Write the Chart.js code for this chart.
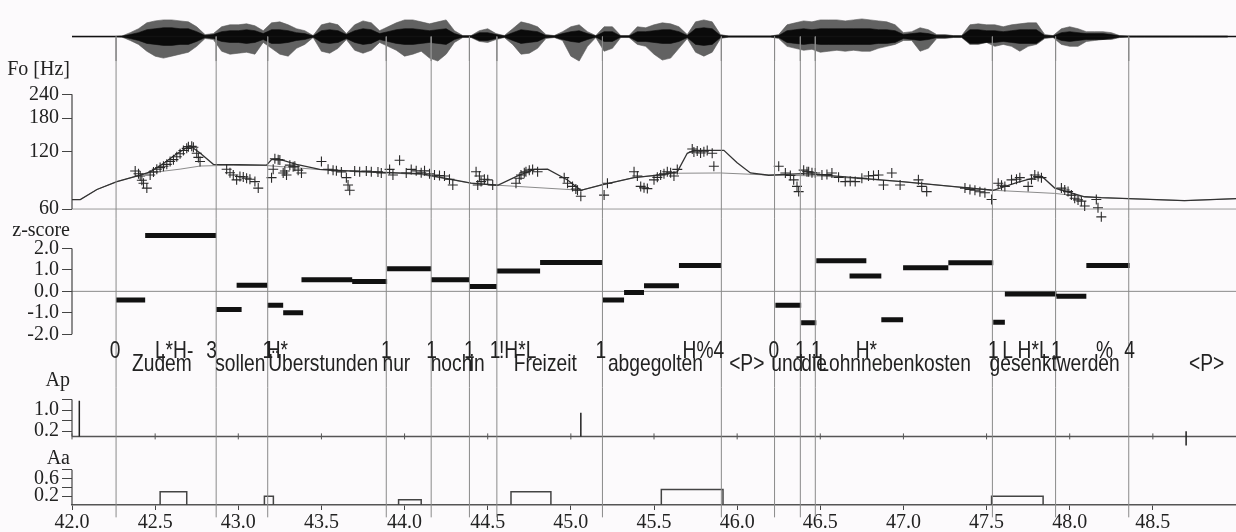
<!DOCTYPE html>
<html><head><meta charset="utf-8">
<script src="https://cdn.jsdelivr.net/npm/chart.js@4.4.1/dist/chart.umd.min.js"></script>
<style>html,body{margin:0;padding:0;background:#fcfafc;}#wrap{width:1236px;height:532px;position:relative;}</style>
</head><body><div id="wrap"><canvas id="c"></canvas></div>
<script>
// ---------------- data ----------------
const xTicks = [42.0,42.5,43.0,43.5,44.0,44.5,45.0,45.5,46.0,46.5,47.0,47.5,48.0,48.5];
const boundaries = [42.265,42.867,43.177,43.89,44.16,44.39,44.555,45.19,45.905,46.225,46.38,46.47,47.535,47.915,48.355];

const waveStart = 42.0, waveStep = 0.05;
const waveUp = [0,0,0,0,0,0,0.5,4,8,14,16,17,17,16,15,10,2,3,10,12,12,13,11,6,14,15,12,8,6,1,
  12,14,12,3,12,16,14,6,10,14,17,17,15,13,15,17,6,1,1,6,8,3,1,8,15,13,10,2,1,5,
  10,12,5,1,10,10,1,1,10,9,12,14,13,10,2,15,17,15,2,0.5,0.5,0.5,0.5,0.5,0.5,2,12,14,16,15,
  17,17,17,16,17,18,17,16,15,12,4,5,9,7,2,2,1,1,12,13,12,12,10,12,13,14,14,2,1,8,
  10,8,5,5,5,4,1,0.5,0.5,0.5,0.5,0.5,0.5,0.5,0.5,0.5,0.5,0.5,0.5,0.5];
const waveDown = [0,0,0,0,0,0,0.5,4,8,15,20,22,20,18,16,10,2,3,15,18,17,16,18,6,12,18,20,12,8,1,
  15,17,12,3,14,17,14,6,10,14,20,18,15,22,25,18,6,1,1,5,6,3,1,8,18,17,12,2,1,4,
  20,25,10,1,15,12,1,1,8,10,18,24,22,12,2,16,20,16,2,0.5,0.5,0.5,0.5,0.5,0.5,2,10,12,14,13,
  16,15,14,15,14,15,15,12,10,8,4,4,15,12,2,2,1,1,8,8,6,10,8,10,15,10,8,2,1,8,
  10,10,5,4,3,3,1,0.5,0.5,0.5,0.5,0.5,0.5,0.5,0.5,0.5,0.5,0.5,0.5,0.5];
const waveCore = [0,0,0,0,0,0,0.3,2,4,7,8,9,9,8,8,5,1,2,5,6,6,7,6,3,7,7,6,4,3,0.5,
  6,7,6,2,6,8,7,3,5,7,8,8,7,6,7,8,3,0.5,0.5,4,4,2,0.5,4,7,6,5,1,0.5,3,
  5,6,3,0.5,5,5,0.5,0.5,5,5,6,7,7,5,1,8,9,8,1,0.3,0.3,0.3,0.3,0.3,0.3,1,6,7,8,7,
  8,8,8,8,8,8,8,7,7,6,2,3,4,3,1,1,0.5,0.5,7,7,6,6,5,6,7,7,7,1,0.5,4,
  5,4,3,3,3,2,0.5,0.3,0.3,0.3,0.3,0.3,0.3,0.3,0.3,0.3,0.3,0.3,0.3,0.3];

const modelT  = [42.00,42.05,42.15,42.27,42.41,42.47,42.55,42.63,42.71,42.77,42.85,43.00,43.17,43.20,43.24,43.35,43.49,43.78,44.10,44.17,44.40,44.56,44.68,44.78,44.86,44.98,45.06,45.18,45.38,45.55,45.64,45.70,45.74,45.92,46.00,46.08,46.19,46.39,46.50,46.58,46.99,47.29,47.54,47.69,47.83,47.91,48.09,48.19,48.69,49.00];
const modelHz = [67.3,67.3,76,83.6,90.5,94,104,117,129,118,103,102.5,102,109,110,103,97,94,92,89.5,82,80,89.5,96.9,97.2,85.3,75.3,80.2,87.8,91,94,117.7,122,122,105,92.8,90.3,92,91,89.5,83.6,78.9,75.3,83,89.5,77.3,69.6,68.8,66.4,68];

const phraseT  = [42.00,42.05,42.15,42.27,42.41,42.47,42.65,42.77,42.97,43.17,43.50,43.78,44.10,44.40,44.56,45.06,45.18,45.38,45.64,45.90,46.19,46.50,46.99,47.29,47.54,47.91,48.09,48.19,48.69,49.00];
const phraseHz = [67.3,67.3,76,83.6,90.5,93,97.2,100.9,102,101.5,96.5,94,91,82,80,75.3,80.2,87.8,92.5,92.8,90.5,89.5,83.6,78.9,75.3,72.5,69.6,68.8,66.4,68];

const f0T = [42.38,42.40,42.41,42.42,42.43,42.45,42.47,42.49,42.51,42.53,42.55,42.57,42.59,42.61,42.63,42.65,42.67,42.69,42.70,42.72,42.73,42.75,42.76,42.77,
  42.93,42.95,42.97,42.99,43.01,43.03,43.05,43.07,43.10,43.12,
  43.20,43.21,43.22,43.24,43.25,43.27,43.28,43.29,43.31,43.33,43.34,43.36,43.38,
  43.50,43.54,43.57,43.59,43.62,43.65,43.66,43.67,43.70,43.73,43.77,43.80,43.84,43.86,43.91,43.93,43.97,
  44.01,44.04,44.07,44.10,44.12,44.15,44.18,44.21,44.24,44.27,44.29,
  44.43,44.44,44.45,44.46,44.48,44.50,44.53,
  44.67,44.69,44.70,44.72,44.73,44.75,44.77,44.80,
  44.96,44.98,45.01,45.03,45.04,45.06,45.20,45.22,
  45.38,45.40,45.42,45.44,45.46,45.50,45.52,45.54,45.56,45.58,45.60,45.62,45.64,
  45.73,45.74,45.76,45.78,45.80,45.82,45.85,45.86,
  46.25,46.29,46.32,46.34,46.36,46.37,46.40,46.42,46.43,46.45,46.47,46.51,46.54,46.57,46.61,46.65,46.68,46.71,46.75,46.79,46.82,46.85,46.88,46.93,46.98,
  47.09,47.11,47.14,47.37,47.40,47.43,47.46,47.49,47.53,47.57,47.59,47.61,47.65,47.68,47.70,47.75,47.77,47.79,47.81,47.83,
  47.95,47.97,47.99,48.01,48.03,48.05,48.07,48.09,48.16,48.17,48.19];
const f0Hz = [95,92,89.5,85,82,77.3,90.5,94,97,99,100.6,103,106.6,109,113,117,121.8,125,127.6,128,126.6,117.8,112,106.6,
  97,93,90.5,85.4,89,88.5,87,86,83.6,77.3,
  87.7,97,110.3,109,108.6,92.8,95,90.5,102,100,100.6,96,92.8,
  106.6,97,96,95.2,94,87.7,80.2,75.3,95,94.1,95,94.1,94,92.8,96.9,90.5,108.3,
  92.8,96.9,95.2,93,95.2,92,90.5,90,89.5,86,80.2,
  94.1,80.2,89.5,83.6,86,85.4,80.2,
  81.9,87,90.5,93,94.1,96,96.9,94.1,
  87.7,81.9,78.9,76.5,75.3,70,71,81.9,
  94.1,89.5,78.9,77.5,76.8,85.4,88,90.5,92,94.1,93,89.5,96.9,
  124.1,119.6,121,118.1,120,121.8,117.8,100.6,
  100.6,92.8,90,85.4,78.9,74.1,96,94.1,94.1,93,92.8,90.5,91,92.8,88,83.6,84,83.6,87,89.5,90,90.5,80.2,92.8,80.2,
  85.4,78.9,74.1,77.3,76,75.3,74,73,67.3,81.9,80,78.9,85.4,86,87.7,78.9,86,90.5,89,87.7,
  77.3,75.5,74.1,71,68.4,67,66,62.2,67.3,61,54.6];
const f0Ticks = [60,120,180,240];

const zStart = [42.265,42.44,42.867,42.99,43.175,43.27,43.38,43.685,43.895,44.16,44.39,44.555,44.815,45.19,45.32,45.44,45.65,46.23,46.385,46.476,46.676,46.867,46.998,47.27,47.54,47.61,47.92,48.10];
const zEnd   = [42.44,42.867,43.02,43.175,43.27,43.39,43.685,43.895,44.16,44.39,44.555,44.815,45.19,45.32,45.44,45.65,45.905,46.385,46.476,46.777,46.867,46.998,47.27,47.54,47.61,47.92,48.10,48.36];
const zVal   = [-0.4,2.6,-0.85,0.28,-0.65,-1.0,0.54,0.46,1.05,0.54,0.23,0.95,1.34,-0.4,-0.05,0.26,1.2,-0.65,-1.46,1.43,0.72,-1.32,1.1,1.33,-1.44,-0.12,-0.23,1.2];
const zTicks = [-2,-1,0,1,2];

const apT = [42.044,45.06,48.70];
const apLow = [0,0,-0.35];
const apHigh = [1.35,0.9,0.2];
const apTicks = [0.2,0.6,1.0,1.4];
const apLabeled = [0.2,1.0];

const aaStart = [42.53,43.157,43.964,44.64,45.544,47.53];
const aaEnd   = [42.69,43.211,44.10,44.88,45.915,47.84];
const aaAmp   = [0.3,0.2,0.12,0.3,0.35,0.2];
const aaTicks = [0.2,0.4,0.6,0.8];
const aaLabeled = [0.2,0.6];

const toneT = [42.259,42.84,42.614,43.177,43.235,43.89,44.163,44.39,44.545,44.68,45.18,45.765,45.89,46.22,46.38,46.476,46.777,47.54,47.627,47.783,47.92,48.21,48.36];
const toneText = ['0','3','L*H-','1','H*','1','1','1','1','!H*L','1','H%','4','0','1','1','H*','1','L','H*L','1','%','4'];
const wordT = [42.361,42.861,43.18,43.867,44.157,44.392,44.657,45.223,45.952,46.205,46.386,46.488,47.518,47.922,48.717];
const wordText = ['Zudem','sollen','Überstunden','nur','noch','in','Freizeit','abgegolten','<P>','und','die','Lohnnebenkosten','gesenkt','werden','<P>'];

// ---------------- layout / styles ----------------
const band = {
  yWave: {min:-25, max:22, h:47, w:6},
  yF0:   {min:53.3, max:359, h:161, w:5},
  yZ:    {min:-2.33, max:3.38, h:125, w:4},
  yLab:  {min:0, max:1, h:47, w:3},
  yAp:   {min:0, max:1.86, h:50, w:2},
  yAa:   {min:0, max:1.556, h:70, w:1}
};
const serif = '"Liberation Serif", "Times New Roman", serif';
const sans = '"Liberation Sans", Arial, sans-serif';

const waveX = i => waveStart + i*waveStep;

function segs(list){ const out=[]; list.forEach(s=>{ out.push(...s, {x:s[s.length-1].x, y:null}); }); return out; }
function lineDs(yAxisID, data, color, width, extra){
  return Object.assign({type:'line', yAxisID, data, borderColor:color, borderWidth:width, pointRadius:0,
    fill:false, tension:0, spanGaps:false, clip:false, showLine:true}, extra||{});
}
const bLo = {yWave:0, yF0:band.yF0.min, yZ:band.yZ.min, yLab:0, yAp:0, yAa:-0.28};
const bHi = {yWave:band.yWave.min, yF0:band.yF0.max, yZ:band.yZ.max, yLab:1, yAp:band.yAp.max, yAa:band.yAa.max};

// note: Chart.js paints earlier datasets on top of later ones
const datasets = [];
// boundary lines, one piece per panel
Object.keys(band).forEach(id=>{
  datasets.push(lineDs(id, segs(boundaries.map(t=>[{x:t,y:bLo[id]},{x:t,y:bHi[id]}])), '#8a8a8a', 1));
});
// waveform: dense core (black) on top of the outer envelope (grey spikes)
datasets.push(lineDs('yWave', [{x:42,y:0},{x:49,y:0}], '#111', 1.5));
datasets.push(lineDs('yWave', waveCore.map((v,i)=>({x:waveX(i), y:v})), '#0a0a0a', 0.6));
datasets.push(lineDs('yWave', waveCore.map((v,i)=>({x:waveX(i), y:-v})), '#0a0a0a', 0.6, {fill:'-1', backgroundColor:'#0a0a0a'}));
datasets.push(lineDs('yWave', waveUp.map((v,i)=>({x:waveX(i), y:v})), '#5a5a5a', 0.6));
datasets.push(lineDs('yWave', waveDown.map((v,i)=>({x:waveX(i), y:-v})), '#5a5a5a', 0.6, {fill:'-1', backgroundColor:'#626262'}));
// F0 panel
datasets.push({type:'scatter', yAxisID:'yF0', data:f0T.map((t,i)=>({x:t,y:f0Hz[i]})), showLine:false,
  pointStyle:'cross', pointRadius:5, borderColor:'#2a2a2a', borderWidth:1.1, backgroundColor:'#2a2a2a', clip:false});
datasets.push(lineDs('yF0', modelT.map((t,i)=>({x:t,y:modelHz[i]})), '#333', 1.3));
datasets.push(lineDs('yF0', phraseT.map((t,i)=>({x:t,y:phraseHz[i]})), '#8c8c8c', 1));
datasets.push(lineDs('yF0', [{x:42,y:f0Ticks[0]},{x:42,y:f0Ticks[f0Ticks.length-1]}], '#444', 1.2));
datasets.push(lineDs('yF0', [{x:42,y:60},{x:49,y:60}], '#9a9a9a', 1));
// z-score
datasets.push(lineDs('yZ', segs(zStart.map((s,i)=>[{x:s,y:zVal[i]},{x:zEnd[i],y:zVal[i]}])), '#111', 5, {borderCapStyle:'butt'}));
datasets.push(lineDs('yZ', [{x:42,y:zTicks[0]},{x:42,y:zTicks[zTicks.length-1]}], '#444', 1.2));
datasets.push(lineDs('yZ', [{x:42,y:0},{x:49,y:0}], '#8a8a8a', 1));
// Ap
datasets.push(lineDs('yAp', segs(apT.map((t,i)=>[{x:t,y:apLow[i]},{x:t,y:apHigh[i]}])), '#222', 1.5));
datasets.push({type:'scatter', yAxisID:'yAp', data:xTicks.map(t=>({x:t,y:0})), pointStyle:'line', rotation:90,
  pointRadius:3, borderColor:'#555', borderWidth:1, clip:false});
datasets.push(lineDs('yAp', [{x:42,y:0},{x:42,y:apTicks[apTicks.length-1]}], '#444', 1.2));
datasets.push(lineDs('yAp', [{x:42,y:0},{x:49,y:0}], '#555', 1.5));
// Aa
datasets.push(lineDs('yAa', segs(aaStart.map((s,i)=>[{x:s,y:0},{x:s,y:aaAmp[i]},{x:aaEnd[i],y:aaAmp[i]},{x:aaEnd[i],y:0}])), '#444', 1.5));
datasets.push(lineDs('yAa', [{x:42,y:0},{x:42,y:aaTicks[aaTicks.length-1]}], '#444', 1.2));

function yScale(id, extra){
  const b = band[id];
  return Object.assign({
    type:'linear', position:'left', stack:'panels', stackWeight:b.h, weight:b.w,
    min:b.min, max:b.max, bounds:'data',
    afterFit: s => { s.width = 72; },
    border:{display:false},
    grid:{display:true, drawOnChartArea:false, drawTicks:true, tickLength:10, color:'#444', lineWidth:1},
    ticks:{autoSkip:false, padding:3, color:'#222', font:{family:serif, size:20}}
  }, extra||{});
}
const hidden = {grid:{display:false}, ticks:{display:false}, border:{display:false}};

const axisTitles = [['yF0','Fo [Hz]',322],['yZ','z-score',2.83],['yAp','Ap',2.12],['yAa','Aa',1.04]];
const toneLevel = 0.64, wordLevel = 0.36;

const textPlugin = {
  id:'texts',
  beforeDraw(chart){ const c=chart.ctx; c.save(); c.fillStyle='#fcfafc'; c.fillRect(0,0,chart.width,chart.height); c.restore(); },
  afterDatasetsDraw(chart){
    const {ctx, scales, chartArea} = chart;
    ctx.save();
    ctx.fillStyle = '#222';
    ctx.font = '20px ' + serif; ctx.textAlign='right'; ctx.textBaseline='middle';
    axisTitles.forEach(([id,txt,v])=> ctx.fillText(txt, chartArea.left-2, scales[id].getPixelForValue(v)));
    ctx.font = '24px ' + sans; ctx.textBaseline='alphabetic';
    const draw = (txt, x, y, align) => { ctx.save(); ctx.translate(x,y); ctx.scale(0.8,1); ctx.textAlign=align; ctx.fillText(txt,0,0); ctx.restore(); };
    toneT.forEach((t,i)=> draw(toneText[i], scales.x.getPixelForValue(t), scales.yLab.getPixelForValue(toneLevel), 'center'));
    wordT.forEach((t,i)=> draw(wordText[i], scales.x.getPixelForValue(t), scales.yLab.getPixelForValue(wordLevel), 'left'));
    ctx.restore();
  }
};

new Chart(document.getElementById('c'), {
  type:'scatter',
  data:{datasets},
  options:{
    responsive:true, maintainAspectRatio:false, animation:false,
    layout:{padding:{top:5,left:0,right:0,bottom:0}, autoPadding:false},
    plugins:{legend:{display:false}, tooltip:{enabled:false}},
    elements:{point:{radius:0}},
    scales:{
      x:{type:'linear', position:'bottom', min:42, max:49, bounds:'data',
        afterBuildTicks: s => { s.ticks = xTicks.map(v=>({value:v})); },
        afterFit: s => { s.height = 27; },
        border:{display:true, color:'#555', width:1.5},
        grid:{display:true, drawOnChartArea:false, drawTicks:true, tickLength:5, color:'#444'},
        ticks:{autoSkip:false, maxRotation:0, padding:1, color:'#222', font:{family:serif, size:20}, callback:v=>Number(v).toFixed(1)}},
      yWave: yScale('yWave', hidden),
      yF0: yScale('yF0', {type:'logarithmic',
        afterBuildTicks: s => { s.ticks = f0Ticks.map(v=>({value:v})); },
        ticks:{autoSkip:false, padding:3, color:'#222', font:{family:serif, size:20}, callback:v=>String(v)}}),
      yZ: yScale('yZ', {
        afterBuildTicks: s => { s.ticks = zTicks.map(v=>({value:v})); },
        ticks:{autoSkip:false, padding:3, color:'#222', font:{family:serif, size:20}, callback:v=>Number(v).toFixed(1)}}),
      yLab: yScale('yLab', hidden),
      yAp: yScale('yAp', {
        afterBuildTicks: s => { s.ticks = apTicks.map(v=>({value:v})); },
        ticks:{autoSkip:false, padding:3, color:'#222', font:{family:serif, size:20}, callback:v=> apLabeled.includes(v) ? Number(v).toFixed(1) : ''}}),
      yAa: yScale('yAa', {
        afterBuildTicks: s => { s.ticks = aaTicks.map(v=>({value:v})); },
        ticks:{autoSkip:false, padding:3, color:'#222', font:{family:serif, size:20}, callback:v=> aaLabeled.includes(v) ? Number(v).toFixed(1) : ''}})
    }
  },
  plugins:[textPlugin]
});
</script></body></html>
